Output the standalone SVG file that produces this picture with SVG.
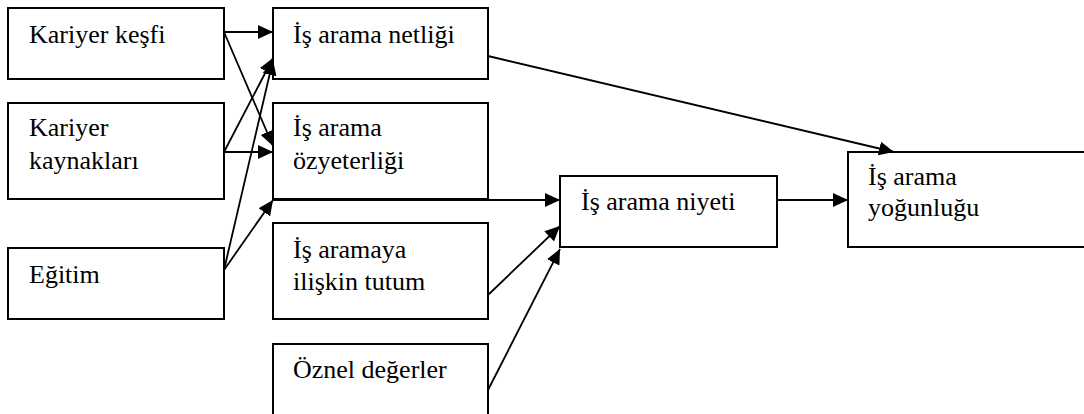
<svg xmlns="http://www.w3.org/2000/svg" width="1084" height="414" viewBox="0 0 1084 414">
  <style>
    .box { fill: #ffffff; stroke: #000000; stroke-width: 2; }
    .edge { stroke: #000000; stroke-width: 1.8; fill: none; marker-end: url(#arrow); }
  </style>
  <defs>
    <marker id="arrow" markerUnits="userSpaceOnUse" markerWidth="16" markerHeight="14" refX="15" refY="7" orient="auto">
      <path d="M0,0 L15,7 L0,14 Z" fill="#000000"/>
    </marker>
  </defs>

  <rect width="1084" height="414" fill="#ffffff"/>

  <!-- predictors -->
  <g id="kariyer-kesfi">
    <rect class="box" x="8" y="8" width="216" height="71"/>
    <text x="29" y="43" style="font-family: 'Liberation Serif'; font-size: 26px">Kariyer keşfi</text>
  </g>
  <g id="kariyer-kaynaklari">
    <rect class="box" x="8" y="103" width="216" height="96"/>
    <text x="29" y="136" style="font-family: 'Liberation Serif'; font-size: 26px">Kariyer</text>
    <text x="29" y="169" style="font-family: 'Liberation Serif'; font-size: 26px">kaynakları</text>
  </g>
  <g id="egitim">
    <rect class="box" x="8" y="248" width="216" height="71"/>
    <text x="29" y="283" style="font-family: 'Liberation Serif'; font-size: 26px">Eğitim</text>
  </g>

  <!-- mediators -->
  <g id="is-arama-netligi">
    <rect class="box" x="273" y="8" width="215" height="71"/>
    <text x="293" y="43" style="font-family: 'Liberation Serif'; font-size: 26px">İş arama netliği</text>
  </g>
  <g id="is-arama-ozyeterligi">
    <rect class="box" x="273" y="103" width="215" height="96"/>
    <text x="293" y="136" style="font-family: 'Liberation Serif'; font-size: 26px">İş arama</text>
    <text x="293" y="169" style="font-family: 'Liberation Serif'; font-size: 26px">özyeterliği</text>
  </g>
  <g id="is-aramaya-iliskin-tutum">
    <rect class="box" x="273" y="223" width="215" height="96"/>
    <text x="293" y="258" style="font-family: 'Liberation Serif'; font-size: 26px">İş aramaya</text>
    <text x="293" y="290" style="font-family: 'Liberation Serif'; font-size: 26px">ilişkin tutum</text>
  </g>
  <g id="oznel-degerler">
    <rect class="box" x="273" y="344" width="215" height="80"/>
    <text x="293" y="378" style="font-family: 'Liberation Serif'; font-size: 26px">Öznel değerler</text>
  </g>

  <!-- intention and outcome -->
  <g id="is-arama-niyeti">
    <rect class="box" x="560" y="176" width="217" height="71"/>
    <text x="581" y="210" style="font-family: 'Liberation Serif'; font-size: 26px">İş arama niyeti</text>
  </g>
  <g id="is-arama-yogunlugu">
    <rect class="box" x="848" y="152" width="250" height="95"/>
    <text x="868" y="185" style="font-family: 'Liberation Serif'; font-size: 26px">İş arama</text>
    <text x="868" y="216" style="font-family: 'Liberation Serif'; font-size: 26px">yoğunluğu</text>
  </g>

  <!-- paths -->
  <g id="connectors">
    <line class="edge" x1="224" y1="32" x2="273" y2="32"/>
    <line class="edge" x1="224" y1="32" x2="273" y2="146"/>
    <line class="edge" x1="224" y1="152" x2="273" y2="58"/>
    <line class="edge" x1="224" y1="152" x2="273" y2="152"/>
    <line class="edge" x1="224" y1="270" x2="273" y2="60"/>
    <line class="edge" x1="224" y1="270" x2="273" y2="200"/>
    <line class="edge" x1="273" y1="200" x2="560" y2="200"/>
    <line class="edge" x1="488" y1="295" x2="560" y2="226"/>
    <line class="edge" x1="488" y1="390" x2="560" y2="249"/>
    <line class="edge" x1="777" y1="200" x2="848" y2="200"/>
    <line class="edge" x1="488" y1="56" x2="894" y2="152"/>
  </g>
</svg>
